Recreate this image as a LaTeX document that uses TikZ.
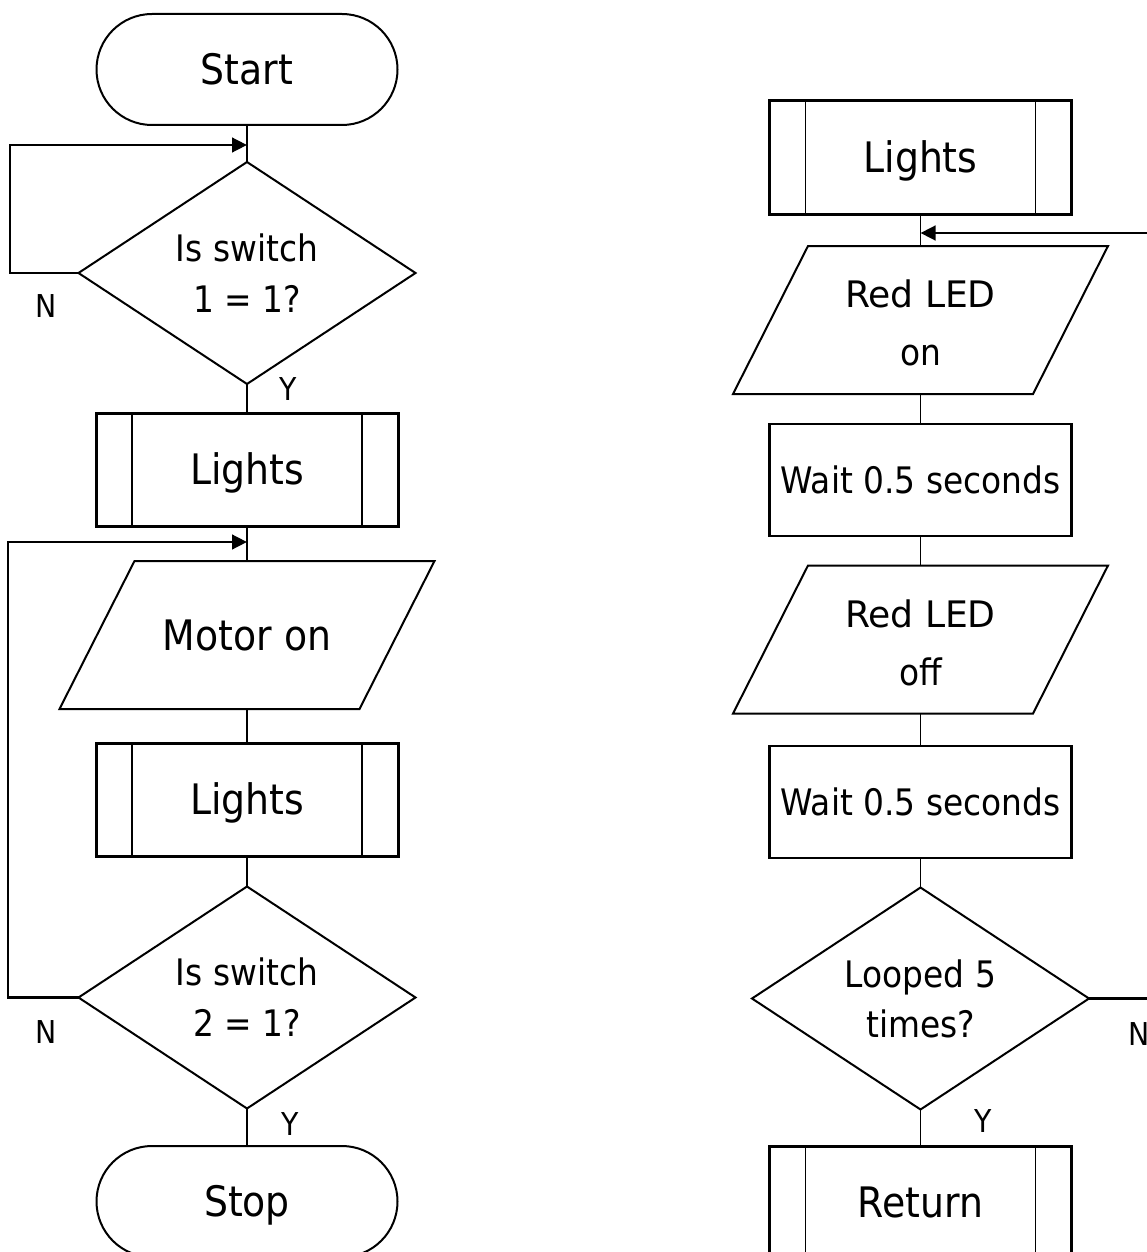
\documentclass[tikz,border=0pt]{standalone}
\usepackage{fontspec}
\usepackage{graphicx}
\setmainfont{DejaVu Sans Condensed}
\usetikzlibrary{shapes.misc,shapes.geometric,arrows.meta}
\begin{document}
\begin{tikzpicture}[x=1pt,y=-1pt,
  every node/.style={inner sep=0pt,outer sep=0pt,align=center},
  bigtxt/.style={font=\fontsize{42}{50}\selectfont,text height=30.6pt,text depth=0pt},
  term/.style={rounded rectangle,draw,line width=2pt,minimum width=301pt,minimum height=111pt,bigtxt},
  sub/.style={rectangle,draw,line width=3pt,minimum width=302pt,minimum height=113pt,bigtxt},
  proc/.style={rectangle,draw,line width=2.7pt,minimum width=302pt,minimum height=112pt,font=\fontsize{36.5}{44}\selectfont,text height=26.6pt,text depth=0pt},
  io/.style={rectangle,minimum width=300pt,minimum height=148pt},
  dec/.style={diamond,draw,line width=2pt,minimum width=337pt,minimum height=222pt,aspect=1.518},
  pshape/.style={draw,line width=2pt,line join=miter},
  inner/.style={line width=1.6pt},
  conn/.style={line width=1.6pt},
  loopline/.style={line width=2.8pt,-{Triangle[length=15pt,width=14.5pt]}},
  lab/.style={font=\fontsize{31.5}{36}\selectfont,anchor=base}
]
\useasboundingbox (0,0) rectangle (1147,1252);
\fill[white] (0,0) rectangle (1147,1252);
\clip (0,0) rectangle (1147,1252);

% ---------- left column ----------
\node[term] (start) at (247,69.5) {Start};
\node[dec,font=\fontsize{36.5}{51}\selectfont] (d1) at (247,273) {Is switch\\1 = 1?};
\node[sub] (l1) at (247,469.5) {Lights};
\node[io,bigtxt] (motor) at (247,635) {Motor on};
\node[sub] (l2) at (247,799.5) {Lights};
\node[dec,font=\fontsize{36.5}{51}\selectfont] (d2) at (247,997.5) {Is switch\\2 = 1?};
\node[term] (stop) at (247,1201.5) {Stop};

% ---------- right column ----------
\node[sub] (lr) at (920.5,157.5) {Lights};
\node[io,font=\fontsize{36.5}{58}\selectfont] (ron) at (920.5,323) {\scalebox{1.1}[1]{Red LED}\\on};
\node[proc] (w1) at (920.5,480) {Wait 0.5 seconds};
\node[io,font=\fontsize{36.5}{58}\selectfont] (roff) at (920.5,642.5) {\scalebox{1.1}[1]{Red LED}\\off};
\node[proc] (w2) at (920.5,802) {Wait 0.5 seconds};
\node[dec,font=\fontsize{36.5}{50}\selectfont] (d3) at (920.5,998.5) {Looped 5\\times?};
\node[sub] (ret) at (920.5,1202.5) {Return};

% parallelogram outlines
\draw[pshape] ([xshift=37.5pt]motor.north west) -- ([xshift=37.5pt]motor.north east)
  -- ([xshift=-37.5pt]motor.south east) -- ([xshift=-37.5pt]motor.south west) -- cycle;
\draw[pshape] ([xshift=37.5pt,yshift=3pt]ron.north west) -- ([xshift=37.5pt,yshift=3pt]ron.north east)
  -- ([xshift=-37.5pt,yshift=3pt]ron.south east) -- ([xshift=-37.5pt,yshift=3pt]ron.south west) -- cycle;
\draw[pshape] ([xshift=37.5pt,yshift=3pt]roff.north west) -- ([xshift=37.5pt,yshift=3pt]roff.north east)
  -- ([xshift=-37.5pt,yshift=3pt]roff.south east) -- ([xshift=-37.5pt,yshift=3pt]roff.south west) -- cycle;

% subroutine inner bars
\foreach \s in {l1,l2,lr,ret}{
  \draw[inner] ([xshift=36pt]\s.north west) -- ([xshift=36pt]\s.south west);
  \draw[inner] ([xshift=-36pt]\s.north east) -- ([xshift=-36pt]\s.south east);
}

% ---------- connectors ----------
\draw[conn] (start.south) -- (d1.north);
\draw[conn] (d1.south) -- (l1.north);
\draw[conn] (l1.south) -- (motor.north);
\draw[conn] (motor.south) -- (l2.north);
\draw[conn] (l2.south) -- (d2.north);
\draw[conn] (d2.south) -- (stop.north);

\draw[conn] (lr.south) -- ([yshift=3pt]ron.north);
\draw[conn] ([yshift=3pt]ron.south) -- (w1.north);
\draw[conn] (w1.south) -- ([yshift=3pt]roff.north);
\draw[conn] ([yshift=3pt]roff.south) -- (w2.north);
\draw[conn] (w2.south) -- (d3.north);
\draw[conn] (d3.south) -- (ret.north);

\coordinate (j1) at (247,145);
\coordinate (k1) at (10,145);
\draw[loopline] (d1.west) -| (k1) -- (j1);

\coordinate (j2) at (247,542);
\coordinate (k2) at (8,542);
\draw[loopline] (d2.west) -| (k2) -- (j2);

\coordinate (j3) at (920.5,233);
\coordinate (k3) at (1165,233);
\draw[loopline] (d3.east) -| (k3) -- (j3);

% ---------- labels ----------
\node[lab] (n1) at (46,317) {N};
\node[lab] (y1) at (288.5,400) {Y};
\node[lab] (n2) at (46,1043) {N};
\node[lab] (y2) at (290.5,1135) {Y};
\node[lab] (y3) at (983,1132) {Y};
\node[lab] (n3) at (1139.5,1045) {N};
\end{tikzpicture}
\end{document}
